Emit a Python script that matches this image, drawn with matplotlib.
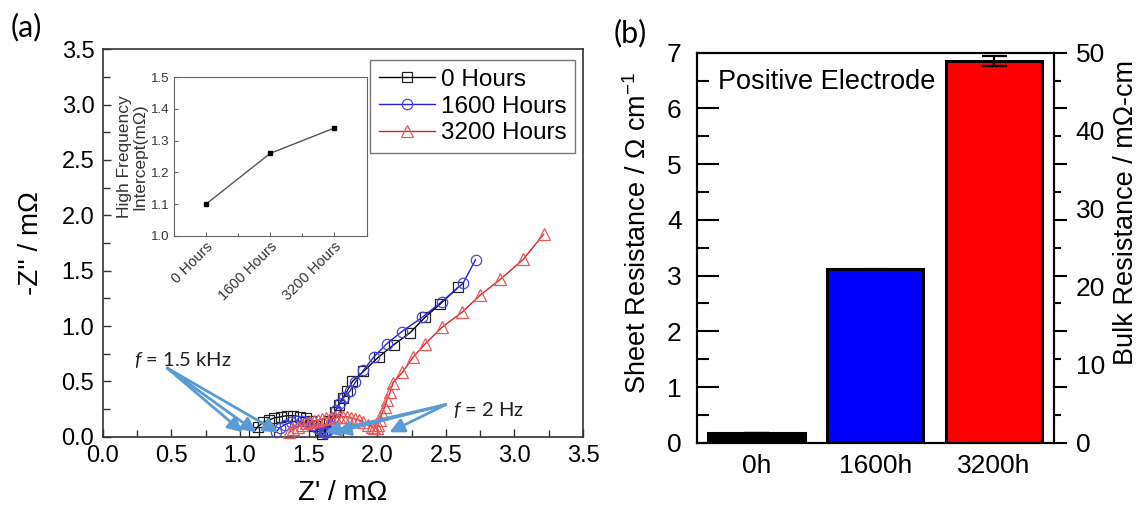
import numpy as np
import matplotlib
matplotlib.use('Agg')
import matplotlib.pyplot as plt
from matplotlib.ticker import MultipleLocator

plt.rcParams['font.family'] = ['Liberation Sans', 'DejaVu Sans']
plt.rcParams['mathtext.fontset'] = 'custom'
plt.rcParams['mathtext.rm'] = 'Liberation Sans'
plt.rcParams['mathtext.it'] = 'Lato:italic'

# ---------------- Panel (a): Nyquist data ----------------
series_labels = ['0 Hours', '1600 Hours', '3200 Hours']

zre_0h = [1.10, 1.13, 1.17, 1.21, 1.25, 1.30, 1.34, 1.39, 1.44, 1.48, 1.52, 1.55,
          1.58, 1.60, 1.62, 1.65, 1.69, 1.72, 1.75, 1.78, 1.82, 1.90, 2.01, 2.12,
          2.24, 2.35, 2.46, 2.59]
zim_0h = [0.04, 0.09, 0.13, 0.15, 0.17, 0.18, 0.19, 0.19, 0.18, 0.17, 0.14, 0.10,
          0.06, 0.02, 0.06, 0.14, 0.22, 0.29, 0.35, 0.41, 0.50, 0.59, 0.72, 0.83,
          0.94, 1.08, 1.20, 1.35]

zre_1600h = [1.26, 1.29, 1.33, 1.37, 1.41, 1.45, 1.49, 1.53, 1.56, 1.59, 1.61, 1.62,
             1.63, 1.64, 1.66, 1.68, 1.70, 1.73, 1.76, 1.80, 1.84, 1.90, 1.975, 2.07,
             2.18, 2.33, 2.47, 2.625, 2.717]
zim_1600h = [0.04, 0.08, 0.11, 0.13, 0.14, 0.14, 0.13, 0.11, 0.08, 0.06, 0.04, 0.03,
             0.04, 0.06, 0.10, 0.17, 0.24, 0.30, 0.36, 0.41, 0.49, 0.60, 0.72, 0.84,
             0.95, 1.08, 1.22, 1.385, 1.60]

zre_3200h = [1.36, 1.39, 1.42, 1.45, 1.48, 1.51, 1.54, 1.57, 1.60, 1.63, 1.66, 1.69,
             1.72, 1.75, 1.78, 1.81, 1.84, 1.87, 1.90, 1.93, 1.96, 1.98, 2.00, 2.006,
             2.018, 2.035, 2.055, 2.071, 2.096, 2.115, 2.183, 2.261, 2.348, 2.472,
             2.617, 2.751, 2.897, 3.064, 3.212]
zim_3200h = [0.04, 0.07, 0.09, 0.11, 0.12, 0.13, 0.14, 0.15, 0.16, 0.17, 0.17, 0.18,
             0.18, 0.18, 0.18, 0.17, 0.16, 0.15, 0.13, 0.11, 0.09, 0.08, 0.08, 0.106,
             0.151, 0.211, 0.271, 0.332, 0.407, 0.488, 0.581, 0.717, 0.837, 0.988,
             1.123, 1.28, 1.422, 1.602, 1.828]

# annotation arrows (tips on the real axis)
khz_text = '$f$ = 1.5 kHz'
khz_text_pos = (0.23, 0.69)
khz_start = (0.47, 0.62)
khz_tips_x = [1.02, 1.12, 1.28]
hz_text = '$f$ = 2 Hz'
hz_text_pos = (2.55, 0.245)
hz_start = (2.50, 0.29)
hz_tips_x = [1.62, 1.70, 2.09]
tip_y = 0.04

# inset: high-frequency intercept
inset_cats = ['0 Hours', '1600 Hours', '3200 Hours']
inset_vals = [1.10, 1.26, 1.34]

# ---------------- Panel (b): bar data ----------------
bar_cats = ['0h', '1600h', '3200h']
sheet_res = [0.17, 3.11, 6.85]
sheet_err = [0.0, 0.015, 0.09]
bar_colors = ['#000000', '#0000FF', '#FF0000']

fig = plt.figure(figsize=(11.38, 5.07), dpi=100)

# ===== Panel (a) =====
ax = fig.add_axes([0.09025, 0.13866, 0.4221, 0.7641])
line_colors = ['#000000', '#2222DD', '#E02020']
mk_colors = ['#222222', '#4848E0', '#E85A5A']
markers = ['s', 'o', '^']
msizes = [6.5, 7.5, 8.5]
data = [(zre_0h, zim_0h), (zre_1600h, zim_1600h), (zre_3200h, zim_3200h)]
for (xr, yi), lab, lc, mc, mk, ms in zip(data, series_labels, line_colors, mk_colors, markers, msizes):
    ax.plot(xr, yi, color=lc, lw=1.0, marker=mk, ms=ms, mfc='none', mec=mc,
            mew=0.9, label=lab, clip_on=False, zorder=3)

ax.set_xlim(0, 3.5)
ax.set_ylim(0, 3.5)
ax.xaxis.set_major_locator(MultipleLocator(0.5))
ax.xaxis.set_minor_locator(MultipleLocator(0.25))
ax.yaxis.set_major_locator(MultipleLocator(0.5))
ax.yaxis.set_minor_locator(MultipleLocator(0.25))
ax.xaxis.set_major_formatter(plt.FormatStrFormatter('%.1f'))
ax.yaxis.set_major_formatter(plt.FormatStrFormatter('%.1f'))
ax.tick_params(which='both', direction='in', top=False, right=False,
               color='#333333', width=1.0)
ax.tick_params(which='major', length=6, labelsize=17, pad=6)
ax.tick_params(which='minor', length=5)
for s in ax.spines.values():
    s.set_color('#333333')
    s.set_linewidth(1.2)
ax.set_xlabel("Z' / m\u03a9", fontsize=20, labelpad=9)
ax.set_ylabel("-Z'' / m\u03a9", fontsize=20, labelpad=13)

leg = ax.legend(loc='upper right', bbox_to_anchor=(0.983, 0.972), borderaxespad=0,
                fontsize=17.5, frameon=True, fancybox=False, handlelength=2.3,
                handletextpad=0.25, labelspacing=0.2, borderpad=0.35, numpoints=1)
leg.get_frame().set_edgecolor('#555555')
leg.get_frame().set_linewidth(1.0)

arrow_color = '#5B9BD5'
for tx in khz_tips_x:
    ax.annotate('', xy=(tx, tip_y), xytext=khz_start,
                arrowprops=dict(arrowstyle='-|>', color=arrow_color, lw=2.0,
                                mutation_scale=22, shrinkA=0, shrinkB=0), zorder=5)
for tx in hz_tips_x:
    ax.annotate('', xy=(tx, tip_y), xytext=hz_start,
                arrowprops=dict(arrowstyle='-|>', color=arrow_color, lw=2.0,
                                mutation_scale=22, shrinkA=0, shrinkB=0), zorder=5)
ax.text(*khz_text_pos, khz_text, fontsize=14.5, family='Lato', ha='left', va='center', color='#222222')
ax.text(*hz_text_pos, hz_text, fontsize=14.5, family='Lato', ha='left', va='center', color='#222222')

# inset
axi = fig.add_axes([0.1529, 0.5351, 0.1692, 0.3124])
xi = np.arange(len(inset_cats))
axi.plot(xi, inset_vals, color='#555555', lw=1.0, marker='s', ms=3.5,
         mfc='black', mec='black')
axi.set_xlim(-0.5, 2.5)
axi.set_ylim(1.0, 1.5)
axi.set_xticks(xi)
axi.set_xticklabels(inset_cats, rotation=45, ha='right', rotation_mode='anchor',
                    fontsize=10.5)
axi.xaxis.set_minor_locator(MultipleLocator(0.5))
axi.yaxis.set_major_locator(MultipleLocator(0.1))
axi.yaxis.set_major_formatter(plt.FormatStrFormatter('%.1f'))
axi.tick_params(which='both', direction='in', color='#666666',
                labelcolor='#333333', width=0.8)
axi.tick_params(axis='y', labelsize=9.5)
axi.tick_params(which='major', length=3, pad=3)
axi.tick_params(which='minor', length=2)
for s in axi.spines.values():
    s.set_color('#666666')
    s.set_linewidth(0.8)
axi.set_ylabel('High Frequency\nIntercept(m\u03a9)', fontsize=12.5, color='#333333',
               labelpad=3, linespacing=1.0)

fig.text(0.0228, 0.947, '(a)', family='Lato', fontsize=22, ha='center', va='center')

# ===== Panel (b) =====
axb = fig.add_axes([0.6125, 0.1268, 0.3133, 0.7692])
xb = np.arange(len(bar_cats))
axb.bar(xb, sheet_res, width=0.81, color=bar_colors, edgecolor='black', linewidth=2.2,
        zorder=2)
axb.errorbar(xb, sheet_res, yerr=sheet_err, fmt='none', ecolor='black',
             elinewidth=1.6, capsize=9, capthick=1.6, zorder=3)
axb.set_xlim(-0.5, 2.5)
axb.set_ylim(0, 7)
axb.set_xticks(xb)
axb.set_xticklabels(bar_cats)
axb.yaxis.set_major_locator(MultipleLocator(1))
axb.yaxis.set_minor_locator(MultipleLocator(0.5))
axb.tick_params(axis='x', length=0, labelsize=19, pad=8)
axb.tick_params(axis='y', which='both', direction='in', right=False, width=1.5,
                labelsize=19, pad=11)
axb.tick_params(axis='y', which='major', length=16)
axb.tick_params(axis='y', which='minor', length=8.5)
for s in axb.spines.values():
    s.set_linewidth(1.5)
axb.set_ylabel('Sheet Resistance / \u03a9 cm$^{-1}$', fontsize=19.5, labelpad=11)
axb.yaxis.label.set_y(0.538)
axb.text(0.058, 0.926, 'Positive Electrode', transform=axb.transAxes, fontsize=19.5,
         ha='left', va='center')

# right spine outward ticks mirroring the left ticks
axt = axb.twinx()
axt.set_ylim(0, 7)
axt.yaxis.set_major_locator(MultipleLocator(1))
axt.yaxis.set_minor_locator(MultipleLocator(0.5))
axt.tick_params(axis='y', which='both', direction='out', width=1.5, labelright=False)
axt.tick_params(axis='y', which='major', length=9.5)
axt.tick_params(axis='y', which='minor', length=5)
for s in axt.spines.values():
    s.set_linewidth(1.5)

# right axis labels (bulk resistance)
axl = axb.twinx()
axl.set_ylim(0, 50)
axl.set_yticks(np.arange(0, 51, 10))
axl.tick_params(axis='y', length=0, labelsize=19, pad=16)
for s in axl.spines.values():
    s.set_visible(False)
axl.set_ylabel('Bulk Resistance / m\u03a9-cm', fontsize=19.5, labelpad=6)
axl.yaxis.label.set_y(0.59)

fig.text(0.5536, 0.935, '(b)', family='Lato', fontsize=22, ha='center', va='center')

fig.savefig('out.png', dpi=100)
